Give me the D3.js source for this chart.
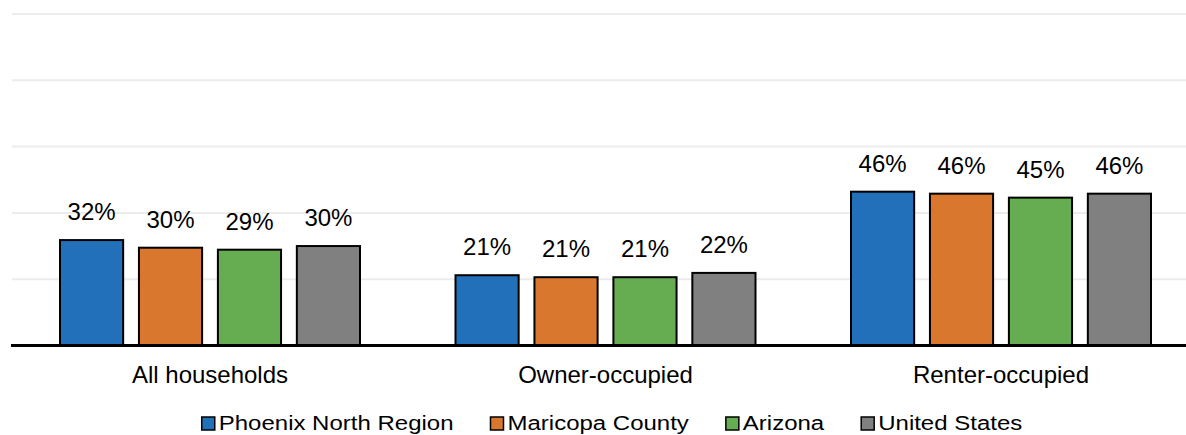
<!DOCTYPE html>
<html lang="en">
<head>
<meta charset="UTF-8">
<title>Households by tenure</title>
<script src="https://d3js.org/d3.v7.min.js"></script>
<style>
  body { margin: 0; padding: 0; background: #ffffff; }
  svg { display: block; font-family: "Liberation Sans", Arial, sans-serif; }
  .grid line { stroke: #ececec; stroke-width: 2; }
  .bar { stroke: #000; stroke-width: 2; }
  .val { font-size: 24px; fill: #000; text-anchor: middle; }
  .cat { font-size: 24px; fill: #000; text-anchor: middle; }
  .legend text { font-size: 24px; fill: #000; }
</style>
</head>
<body>
<svg id="chart" width="1186" height="435"></svg>
<script>
// categories along the x axis
const categories = ['All households', 'Owner-occupied', 'Renter-occupied'];

// series names (legend order)
const seriesNames = ['Phoenix North Region', 'Maricopa County', 'Arizona', 'United States'];

// bar values (percent), one array per series
const phoenixNorth = [31.8, 21.2, 46.4];
const maricopa     = [29.5, 20.6, 45.8];
const arizona      = [28.9, 20.6, 44.6];
const unitedStates = [30.0, 21.9, 45.8];

// printed labels above the bars
const phoenixNorthLabels = ['32%', '21%', '46%'];
const maricopaLabels     = ['30%', '21%', '46%'];
const arizonaLabels      = ['29%', '21%', '45%'];
const unitedStatesLabels = ['30%', '22%', '46%'];

const gridTicks = [20, 40, 60, 80, 100];
const colors = ['#2370ba', '#d9772e', '#66ad51', '#808080'];

const seriesValues = [phoenixNorth, maricopa, arizona, unitedStates];
const seriesLabels = [phoenixNorthLabels, maricopaLabels, arizonaLabels, unitedStatesLabels];

const svg = d3.select('#chart');

const x0 = d3.scaleBand().domain(categories).range([12.5, 1199]).padding(0);
const x1 = d3.scaleBand().domain(seriesNames).range([47.5, 347.5]).paddingInner(0.2).paddingOuter(0);
const y = d3.scaleLinear().domain([0, 100]).range([345.5, 14]);
const color = d3.scaleOrdinal().domain(seriesNames).range(colors);

// gridlines
svg.append('g')
  .attr('class', 'grid')
  .selectAll('line')
  .data(gridTicks)
  .enter().append('line')
  .attr('x1', 12)
  .attr('x2', 1186)
  .attr('y1', d => y(d))
  .attr('y2', d => y(d));

// flatten into one record per bar
const rows = [];
categories.forEach((cat, i) => {
  seriesNames.forEach((s, j) => {
    rows.push({ cat, series: s, value: seriesValues[j][i], label: seriesLabels[j][i] });
  });
});

const groups = svg.append('g');

groups.selectAll('rect')
  .data(rows)
  .enter().append('rect')
  .attr('class', 'bar')
  .attr('x', d => x0(d.cat) + x1(d.series))
  .attr('y', d => y(d.value))
  .attr('width', x1.bandwidth())
  .attr('height', d => y(0) - y(d.value))
  .attr('fill', d => color(d.series));

groups.selectAll('text')
  .data(rows)
  .enter().append('text')
  .attr('class', 'val')
  .attr('x', d => x0(d.cat) + x1(d.series) + x1.bandwidth() / 2)
  .attr('y', d => y(d.value) - 20)
  .text(d => d.label);

// baseline
svg.append('line')
  .attr('x1', 11)
  .attr('x2', 1186)
  .attr('y1', y(0))
  .attr('y2', y(0))
  .attr('stroke', '#000')
  .attr('stroke-width', 3);

// category labels
svg.append('g')
  .selectAll('text')
  .data(categories)
  .enter().append('text')
  .attr('class', 'cat')
  .attr('x', d => x0(d) + x1.range()[0] + (x1.range()[1] - x1.range()[0]) / 2)
  .attr('y', 383)
  .text(d => d);

// legend, laid out left to right then centred
const legend = svg.append('g').attr('class', 'legend');
const items = legend.selectAll('g')
  .data(seriesNames)
  .enter().append('g');

items.append('rect')
  .attr('x', 0)
  .attr('y', -13)
  .attr('width', 13)
  .attr('height', 13)
  .attr('fill', d => color(d))
  .attr('stroke', '#000')
  .attr('stroke-width', 1.5);

// text is a little squashed vertically in the original
items.append('text')
  .attr('transform', 'translate(17,0) scale(1,0.83)')
  .text(d => d);

const gap = 37;
let cursor = 0;
items.each(function() {
  const g = d3.select(this);
  g.attr('transform', `translate(${cursor},0)`);
  const w = g.select('text').node().getComputedTextLength();
  cursor += 17 + w + gap;
});
const legendWidth = cursor - gap;
legend.attr('transform', `translate(${612 - legendWidth / 2},430)`);
</script>
</body>
</html>
